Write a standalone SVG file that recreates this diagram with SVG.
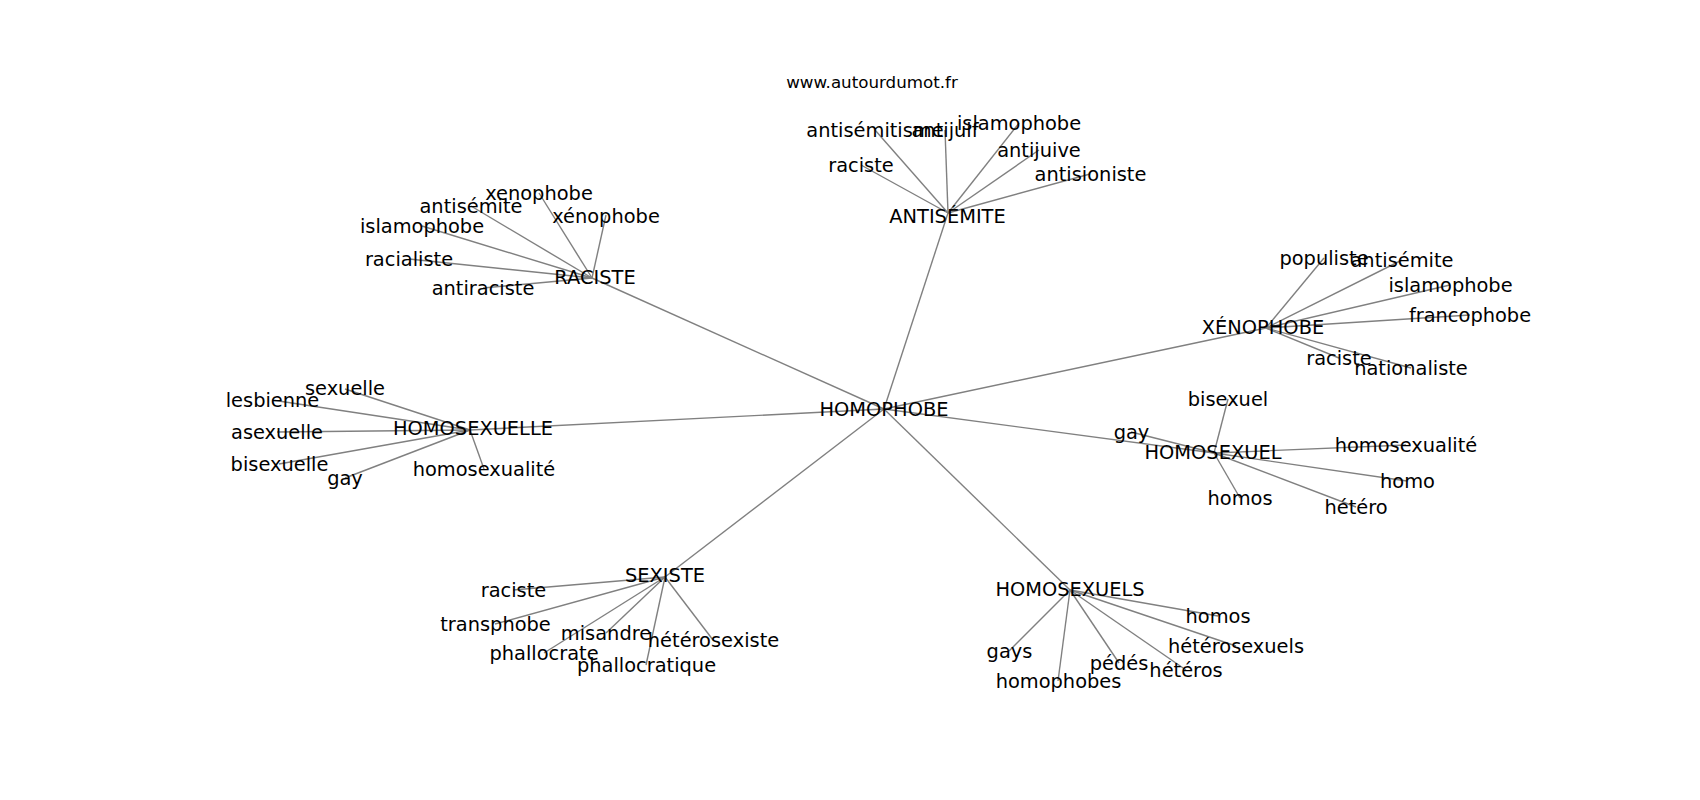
<svg xmlns="http://www.w3.org/2000/svg" width="1700" height="800" viewBox="0 0 1700 800">
<style>
text{font-family:"DejaVu Sans","Liberation Sans",sans-serif;fill:#000;text-anchor:middle}
.lbl{font-size:19.4px}
.wm{font-size:16.7px}
#edges line{stroke:#808080;stroke-width:1.4}
</style>
<rect width="1700" height="800" fill="#fff"/>
<text class="wm" x="872" y="88">www.autourdumot.fr</text>
<g id="edges">
<line x1="884" y1="409" x2="948" y2="213"/>
<line x1="884" y1="409" x2="592" y2="278"/>
<line x1="884" y1="409" x2="1266" y2="328"/>
<line x1="884" y1="409" x2="470" y2="430"/>
<line x1="884" y1="409" x2="1214" y2="453"/>
<line x1="884" y1="409" x2="665" y2="577"/>
<line x1="884" y1="409" x2="1070" y2="590"/>
<!-- ANTISEMITE -->
<line x1="948" y1="213" x2="875" y2="130"/>
<line x1="948" y1="213" x2="945" y2="130"/>
<line x1="948" y1="213" x2="1019" y2="123"/>
<line x1="948" y1="213" x2="861" y2="165"/>
<line x1="948" y1="213" x2="1039" y2="150"/>
<line x1="948" y1="213" x2="1090" y2="174"/>
<!-- RACISTE -->
<line x1="592" y1="278" x2="539" y2="193"/>
<line x1="592" y1="278" x2="471" y2="206"/>
<line x1="592" y1="278" x2="606" y2="215"/>
<line x1="592" y1="278" x2="422" y2="226"/>
<line x1="592" y1="278" x2="409" y2="259"/>
<line x1="592" y1="278" x2="483" y2="288"/>
<!-- XENOPHOBE -->
<line x1="1266" y1="328" x2="1324" y2="258"/>
<line x1="1266" y1="328" x2="1402" y2="260"/>
<line x1="1266" y1="328" x2="1450" y2="285"/>
<line x1="1266" y1="328" x2="1470" y2="315"/>
<line x1="1266" y1="328" x2="1339" y2="358"/>
<line x1="1266" y1="328" x2="1411" y2="368"/>
<!-- HOMOSEXUELLE -->
<line x1="470" y1="430" x2="345" y2="389"/>
<line x1="470" y1="430" x2="272" y2="400"/>
<line x1="470" y1="430" x2="277" y2="432"/>
<line x1="470" y1="430" x2="279" y2="464"/>
<line x1="470" y1="430" x2="345" y2="478"/>
<line x1="470" y1="430" x2="484" y2="469"/>
<!-- HOMOSEXUEL -->
<line x1="1214" y1="453" x2="1228" y2="399"/>
<line x1="1214" y1="453" x2="1131" y2="432"/>
<line x1="1214" y1="453" x2="1406" y2="445"/>
<line x1="1214" y1="453" x2="1407" y2="481"/>
<line x1="1214" y1="453" x2="1240" y2="498"/>
<line x1="1214" y1="453" x2="1356" y2="507"/>
<!-- SEXISTE -->
<line x1="665" y1="577" x2="513" y2="590"/>
<line x1="665" y1="577" x2="495" y2="624"/>
<line x1="665" y1="577" x2="606" y2="633"/>
<line x1="665" y1="577" x2="713" y2="640"/>
<line x1="665" y1="577" x2="544" y2="653"/>
<line x1="665" y1="577" x2="646" y2="665"/>
<!-- HOMOSEXUELS -->
<line x1="1070" y1="590" x2="1218" y2="616"/>
<line x1="1070" y1="590" x2="1236" y2="646"/>
<line x1="1070" y1="590" x2="1009" y2="651"/>
<line x1="1070" y1="590" x2="1119" y2="663"/>
<line x1="1070" y1="590" x2="1186" y2="670"/>
<line x1="1070" y1="590" x2="1058" y2="681"/>
</g>
<g id="homophobe"><text class="lbl" x="884" y="416">HOMOPHOBE</text></g>
<g id="antisemite"><text class="lbl" x="947.5" y="223">ANTISÉMITE</text></g>
<g id="raciste"><text class="lbl" x="595" y="284">RACISTE</text></g>
<g id="xenophobe"><text class="lbl" x="1263" y="334">XÉNOPHOBE</text></g>
<g id="homosexuelle"><text class="lbl" x="473" y="435">HOMOSEXUELLE</text></g>
<g id="homosexuel"><text class="lbl" x="1213" y="459">HOMOSEXUEL</text></g>
<g id="sexiste"><text class="lbl" x="665" y="581.5">SEXISTE</text></g>
<g id="homosexuels"><text class="lbl" x="1070" y="596">HOMOSEXUELS</text></g>

<g id="antisemite-antisemitisme"><text class="lbl" x="875" y="137">antisémitisme</text></g>
<g id="antisemite-antijuif"><text class="lbl" x="945" y="137">antijuif</text></g>
<g id="antisemite-islamophobe"><text class="lbl" x="1019" y="130">islamophobe</text></g>
<g id="antisemite-raciste"><text class="lbl" x="861" y="172">raciste</text></g>
<g id="antisemite-antijuive"><text class="lbl" x="1039" y="157">antijuive</text></g>
<g id="antisemite-antisioniste"><text class="lbl" x="1090.5" y="181">antisioniste</text></g>

<g id="raciste-xenophobe"><text class="lbl" x="539" y="200">xenophobe</text></g>
<g id="raciste-antisemite"><text class="lbl" x="471" y="213">antisémite</text></g>
<g id="raciste-xenophobe2"><text class="lbl" x="606" y="223">xénophobe</text></g>
<g id="raciste-islamophobe"><text class="lbl" x="422" y="233">islamophobe</text></g>
<g id="raciste-racialiste"><text class="lbl" x="409" y="266">racialiste</text></g>
<g id="raciste-antiraciste"><text class="lbl" x="483" y="295">antiraciste</text></g>

<g id="xenophobe-populiste"><text class="lbl" x="1324" y="265">populiste</text></g>
<g id="xenophobe-antisemite"><text class="lbl" x="1402" y="267">antisémite</text></g>
<g id="xenophobe-islamophobe"><text class="lbl" x="1450.5" y="292">islamophobe</text></g>
<g id="xenophobe-francophobe"><text class="lbl" x="1470" y="322">francophobe</text></g>
<g id="xenophobe-raciste"><text class="lbl" x="1339" y="365">raciste</text></g>
<g id="xenophobe-nationaliste"><text class="lbl" x="1411" y="375">nationaliste</text></g>

<g id="homosexuelle-sexuelle"><text class="lbl" x="345" y="395">sexuelle</text></g>
<g id="homosexuelle-lesbienne"><text class="lbl" x="272.5" y="407">lesbienne</text></g>
<g id="homosexuelle-asexuelle"><text class="lbl" x="277" y="439">asexuelle</text></g>
<g id="homosexuelle-bisexuelle"><text class="lbl" x="279.5" y="471">bisexuelle</text></g>
<g id="homosexuelle-gay"><text class="lbl" x="345" y="485">gay</text></g>
<g id="homosexuelle-homosexualite"><text class="lbl" x="484" y="476">homosexualité</text></g>

<g id="homosexuel-bisexuel"><text class="lbl" x="1228" y="405.5">bisexuel</text></g>
<g id="homosexuel-gay"><text class="lbl" x="1131.5" y="439">gay</text></g>
<g id="homosexuel-homosexualite"><text class="lbl" x="1406" y="452">homosexualité</text></g>
<g id="homosexuel-homo"><text class="lbl" x="1407.5" y="488">homo</text></g>
<g id="homosexuel-homos"><text class="lbl" x="1240" y="505">homos</text></g>
<g id="homosexuel-hetero"><text class="lbl" x="1356" y="514">hétéro</text></g>

<g id="sexiste-raciste"><text class="lbl" x="513.5" y="596.5">raciste</text></g>
<g id="sexiste-transphobe"><text class="lbl" x="495.5" y="630.5">transphobe</text></g>
<g id="sexiste-misandre"><text class="lbl" x="606" y="640">misandre</text></g>
<g id="sexiste-heterosexiste"><text class="lbl" x="713.5" y="647">hétérosexiste</text></g>
<g id="sexiste-phallocrate"><text class="lbl" x="544" y="660">phallocrate</text></g>
<g id="sexiste-phallocratique"><text class="lbl" x="646.5" y="671.5">phallocratique</text></g>

<g id="homosexuels-homos"><text class="lbl" x="1218" y="622.5">homos</text></g>
<g id="homosexuels-heterosexuels"><text class="lbl" x="1236" y="652.5">hétérosexuels</text></g>
<g id="homosexuels-gays"><text class="lbl" x="1009.5" y="658">gays</text></g>
<g id="homosexuels-pedes"><text class="lbl" x="1119" y="670">pédés</text></g>
<g id="homosexuels-heteros"><text class="lbl" x="1186" y="676.5">hétéros</text></g>
<g id="homosexuels-homophobes"><text class="lbl" x="1058.5" y="688">homophobes</text></g>
</svg>
